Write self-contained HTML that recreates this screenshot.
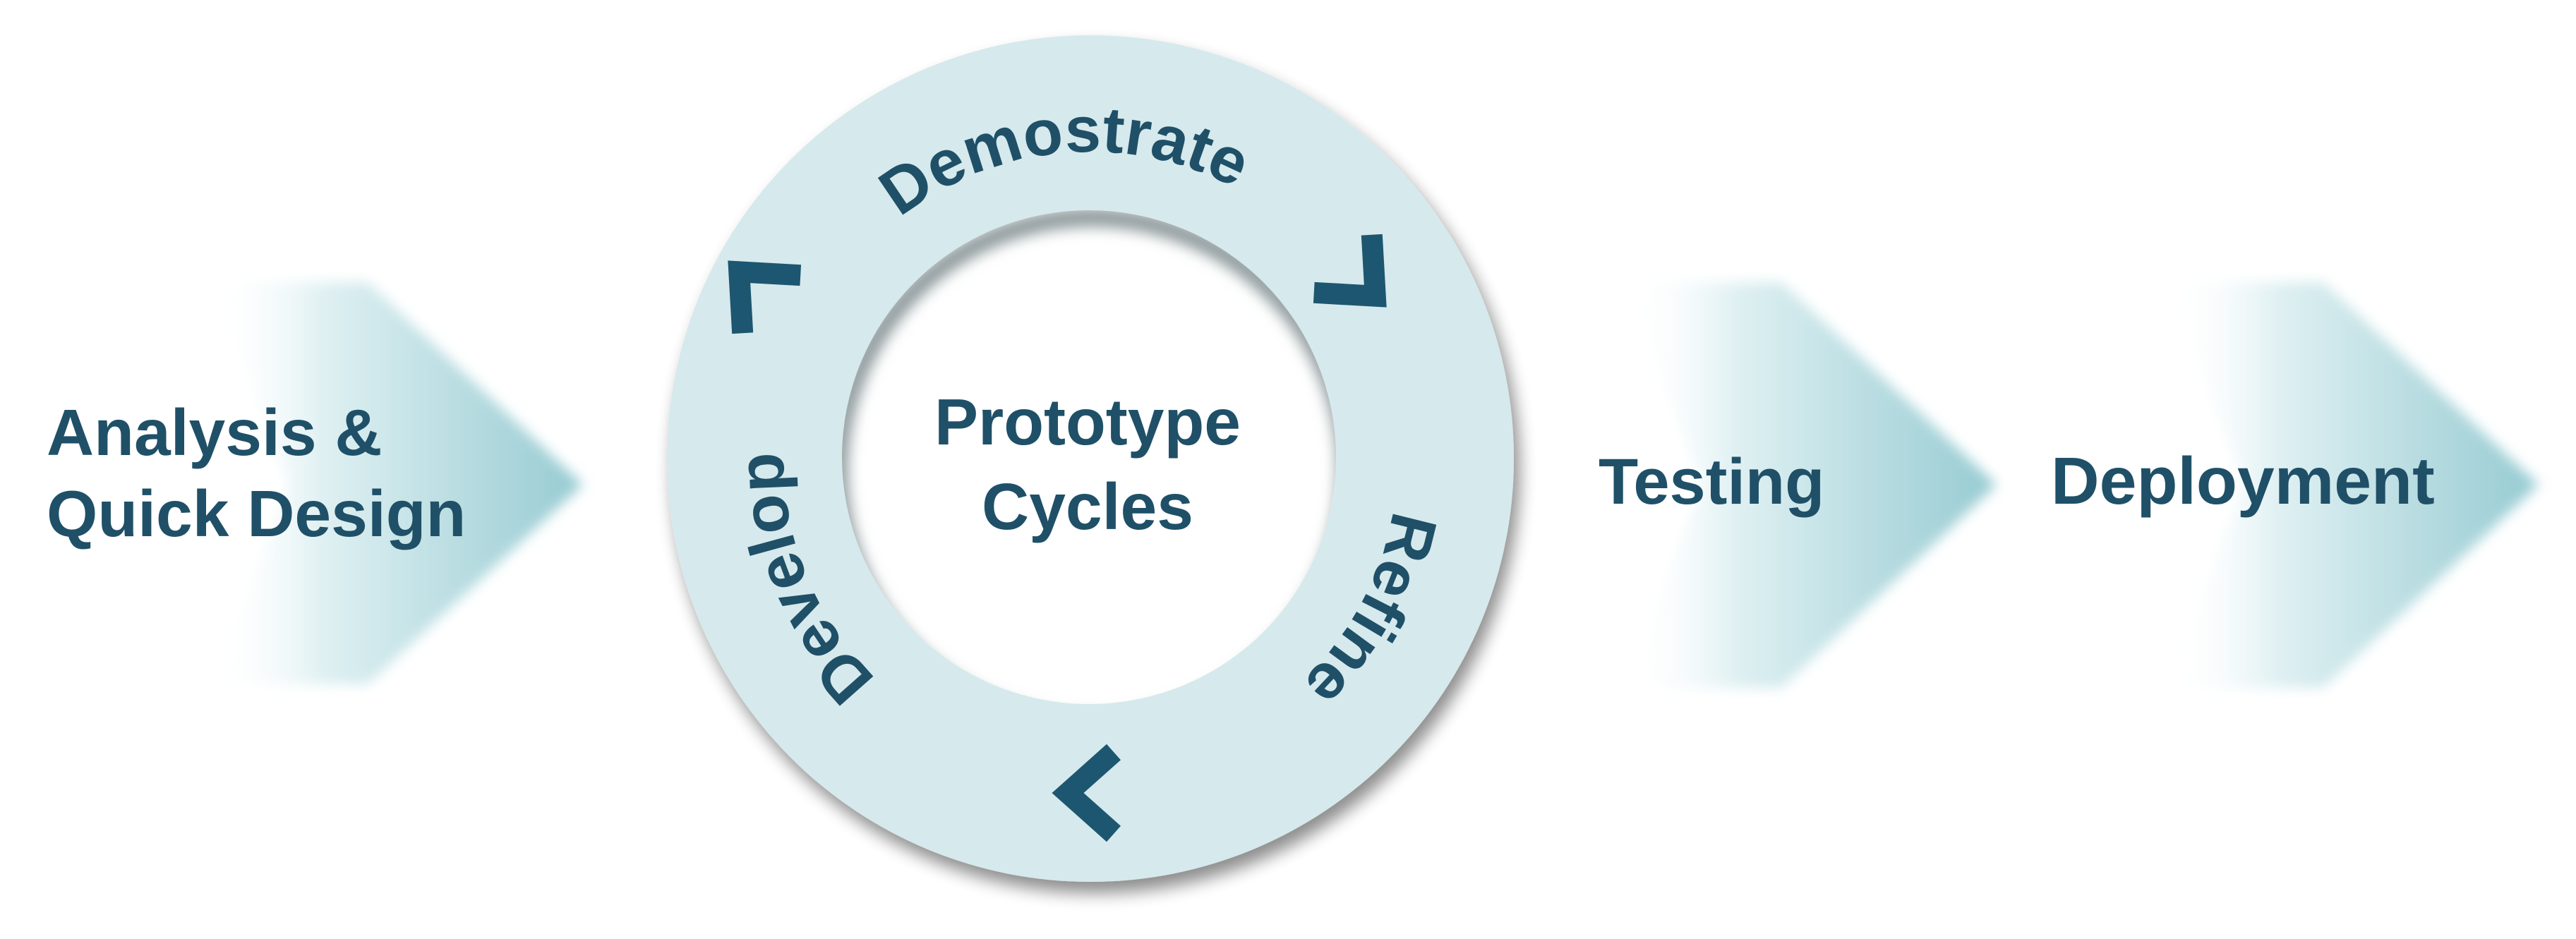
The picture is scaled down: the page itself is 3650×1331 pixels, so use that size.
<!DOCTYPE html>
<html><head><meta charset="utf-8"><style>
html,body{margin:0;padding:0;background:#fff;}
svg{display:block;}
text{font-family:"Liberation Sans",sans-serif;font-weight:bold;fill:#1f5068;}
</style></head><body>
<svg width="3650" height="1331" viewBox="0 0 3650 1331" xmlns="http://www.w3.org/2000/svg">
<defs>
  <linearGradient id="ag" x1="0" y1="0" x2="1" y2="0">
    <stop offset="0" stop-color="#ffffff" stop-opacity="0"/>
    <stop offset="0.3" stop-color="#dff0f2"/>
    <stop offset="1" stop-color="#96cbd2"/>
  </linearGradient>
  <filter id="blur" x="-20%" y="-20%" width="140%" height="140%"><feGaussianBlur stdDeviation="9"/></filter>
  <filter id="sh" x="-20%" y="-20%" width="140%" height="140%">
    <feGaussianBlur in="SourceAlpha" stdDeviation="12"/>
    <feOffset dx="8" dy="16"/>
    <feComponentTransfer><feFuncA type="linear" slope="0.45"/></feComponentTransfer>
    <feMerge><feMergeNode/><feMergeNode in="SourceGraphic"/></feMerge>
  </filter>
  <filter id="b2"><feGaussianBlur stdDeviation="10"/></filter>
  <clipPath id="inner"><circle cx="1543" cy="648" r="350"/></clipPath>
  <path id="ring" d="M1545,1085 A435,435 0 1,1 1545,215 A435,435 0 1,1 1545,1085"/>
</defs>

<!-- big chevron arrows -->
<g filter="url(#blur)">
  <polygon points="300,400 521,400 826,687 521,970 300,970 410,687" fill="url(#ag)"/>
  <polygon points="2303,400 2524,400 2829,687 2524,975 2303,975 2413,687" fill="url(#ag)"/>
  <polygon points="3071,400 3292,400 3597,687 3292,975 3071,975 3181,687" fill="url(#ag)"/>
</g>

<!-- ring -->
<circle cx="1545" cy="650" r="600" fill="#d6e9ec" filter="url(#sh)"/>
<circle cx="1543" cy="648" r="350" fill="#ffffff"/>
<g clip-path="url(#inner)">
  <circle cx="1548" cy="668" r="360" fill="none" stroke="#8a9699" stroke-width="26" filter="url(#b2)"/>
</g>

<!-- ring labels -->
<text font-size="92"><textPath href="#ring" startOffset="48.6%" text-anchor="middle">Demostrate</textPath></text>
<text font-size="92"><textPath href="#ring" startOffset="18.8%" text-anchor="middle">Develop</textPath></text>
<text font-size="92"><textPath href="#ring" startOffset="82.8%" text-anchor="middle">Refine</textPath></text>

<!-- small chevrons -->
<g fill="none" stroke="#1d5670" stroke-width="30" stroke-linejoin="miter" stroke-miterlimit="10">
  <path d="M30,-58 L-35,0 L30,58" transform="translate(1548,1124)"/>
  <path d="M30,-58 L-35,0 L30,58" transform="translate(1072,410) rotate(45)"/>
  <path d="M30,-58 L-35,0 L30,58" transform="translate(1924,395) rotate(225)"/>
</g>

<!-- labels -->
<text font-size="93" x="66" y="645">Analysis &amp;</text>
<text font-size="93" x="66" y="760">Quick Design</text>
<text font-size="93" x="1541" y="630" text-anchor="middle">Prototype</text>
<text font-size="93" x="1541" y="750" text-anchor="middle">Cycles</text>
<text font-size="92" x="2265" y="714">Testing</text>
<text font-size="95" x="2906" y="714">Deployment</text>
</svg>
</body></html>
